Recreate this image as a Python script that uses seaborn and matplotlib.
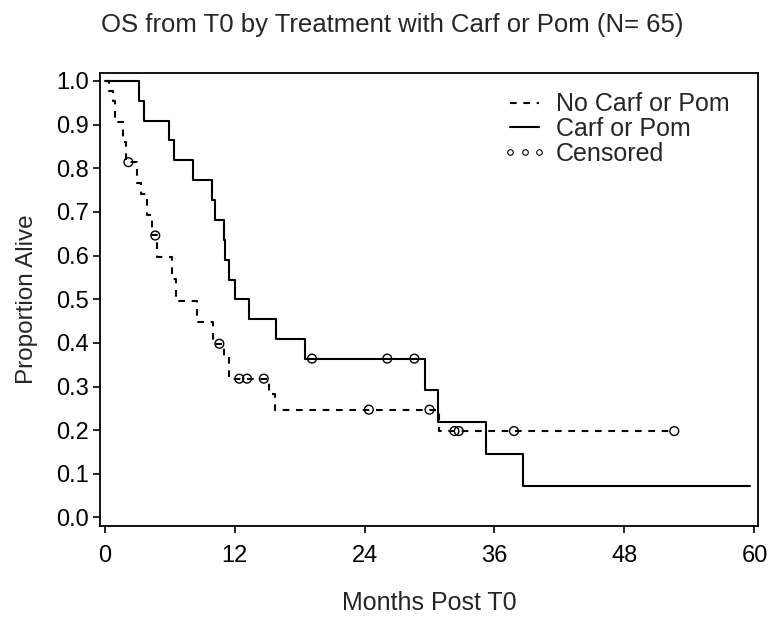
import pandas as pd
import seaborn as sns
import matplotlib.pyplot as plt
from matplotlib import font_manager
from matplotlib.lines import Line2D

# --- Kaplan-Meier step values ---
no_cp_time = [0, 0.45, 0.75, 0.95, 1.7, 2.0, 3.0, 3.4, 3.9, 4.4, 4.8, 6.2, 6.6,
              8.5, 10.0, 11.0, 11.45, 15.2, 15.7, 30.85, 52.6]
no_cp_surv = [1.0, 0.977, 0.953, 0.907, 0.860, 0.814, 0.766, 0.742, 0.694, 0.646,
              0.597, 0.547, 0.497, 0.447, 0.398, 0.371, 0.318, 0.283, 0.247, 0.198, 0.198]

cp_time = [0, 3.14, 3.6, 5.97, 6.4, 8.2, 9.9, 10.16, 11.0, 11.1, 11.45, 12.0,
           13.36, 15.85, 18.47, 29.6, 30.75, 35.2, 38.6, 59.55]
cp_surv = [1.0, 0.955, 0.909, 0.864, 0.818, 0.773, 0.727, 0.682, 0.636, 0.591,
           0.545, 0.5, 0.455, 0.409, 0.364, 0.291, 0.218, 0.145, 0.073, 0.073]

# censored observations
cens_time = [2.2, 4.68, 10.6, 12.44, 13.15, 14.7, 24.4, 30.0, 32.3, 32.7, 37.8, 52.6,
             19.15, 26.1, 28.6]
cens_surv = [0.814, 0.646, 0.398, 0.318, 0.318, 0.318, 0.247, 0.247, 0.198, 0.198, 0.198, 0.198,
             0.364, 0.364, 0.364]

groups = ["No Carf or Pom", "Carf or Pom"]

df = pd.concat([
    pd.DataFrame({"time": no_cp_time, "surv": no_cp_surv, "group": groups[0]}),
    pd.DataFrame({"time": cp_time, "surv": cp_surv, "group": groups[1]}),
])
cens = pd.DataFrame({"time": cens_time, "surv": cens_surv})

# --- Plotting ---
sns.set_theme(style="ticks")
plt.rcParams['font.family'] = ['Liberation Sans', 'DejaVu Sans']

# narrow face for the title if it is around
installed = {f.name for f in font_manager.fontManager.ttflist}
if "Liberation Sans Narrow" in installed:
    title_font, title_size = "Liberation Sans Narrow", 22
else:
    title_font, title_size = "Liberation Sans", 18.5

fig = plt.figure(figsize=(7.73, 6.2), dpi=100)
ax = fig.add_axes([0.1294, 0.1516, 0.8508, 0.7302])

sns.lineplot(ax=ax, data=df, x="time", y="surv", hue="group", style="group",
             palette={g: "black" for g in groups},
             dashes={groups[0]: (3.2, 3.2), groups[1]: ""},
             drawstyle="steps-post", estimator=None, linewidth=1.5, legend=False)
sns.scatterplot(ax=ax, data=cens, x="time", y="surv", marker="o", s=40,
                facecolor="none", edgecolor="black", linewidth=1.0, zorder=3)

ax.set_xlim(-0.42, 60.3)
ax.set_ylim(-0.0195, 1.0176)
ax.set_xticks([0, 12, 24, 36, 48, 60])
ax.set_yticks([i / 10 for i in range(11)])
ax.set_yticklabels([f"{i / 10:.1f}" for i in range(11)])
ax.tick_params(direction="out", length=5, width=1.2, labelsize=17, colors="black", pad=3)
ax.tick_params(axis="x", pad=9)
for sp in ax.spines.values():
    sp.set_visible(True)
    sp.set_linewidth(1.3)
    sp.set_color("black")

ax.set_xlabel("Months Post T0", fontsize=18, labelpad=17)
ax.set_ylabel("Proportion Alive", fontsize=17.5, labelpad=13)
fig.text(0.507, 1 - 25 / 620, "OS from T0 by Treatment with Carf or Pom (N= 65)",
         ha="center", va="center", fontsize=title_size, family=[title_font, "DejaVu Sans"])

handles = [
    Line2D([], [], color="black", lw=1.5, dashes=(3.2, 3.2)),
    Line2D([], [], color="black", lw=1.5),
    Line2D([], [], color="black", ls="none", marker="o", markersize=4,
           markerfacecolor="none", markeredgewidth=0.8),
]
ax.legend(handles, ["No Carf or Pom", "Carf or Pom", "Censored"], loc="upper left",
          bbox_to_anchor=(0.6127, 0.9576), frameon=False, fontsize=18, numpoints=3,
          handlelength=1.76, handletextpad=0.36, labelspacing=0.03, borderpad=0, borderaxespad=0)

plt.savefig("out.png", dpi=100)
